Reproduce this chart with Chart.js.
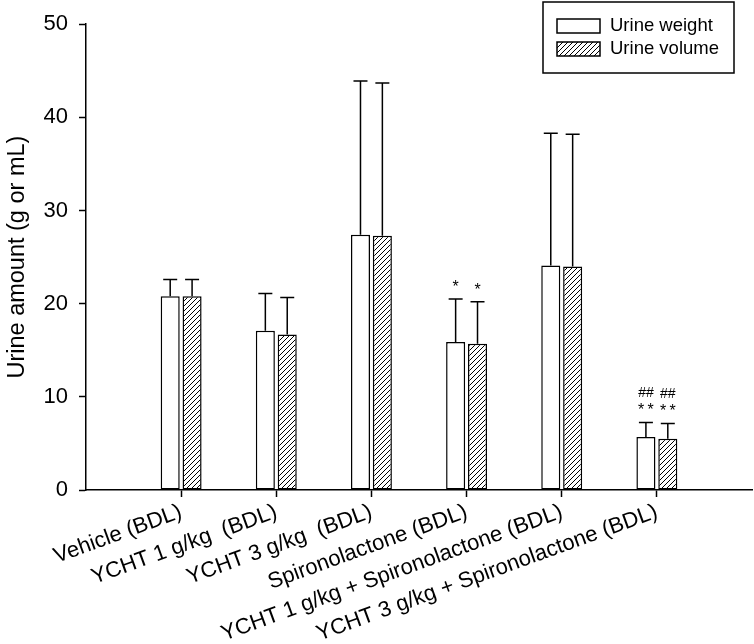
<!DOCTYPE html>
<html>
<head>
<meta charset="utf-8">
<script src="https://cdn.jsdelivr.net/npm/chart.js@4"></script>
<style>
  html, body { margin: 0; padding: 0; background: #fff; }
  #wrap { width: 754px; height: 644px; }
</style>
</head>
<body>
<div id="wrap"><canvas id="myChart"></canvas></div>
<script>
  // empty slots at both ends so the groups sit on ticks 1..6
  const groups = ['', 'Vehicle (BDL)', 'YCHT 1 g/kg  (BDL)', 'YCHT 3 g/kg  (BDL)', 'Spironolactone (BDL)',
    'YCHT 1 g/kg + Spironolactone (BDL)', 'YCHT 3 g/kg + Spironolactone (BDL)', ''];
  const urineWeight = [null, 20.8, 17.1, 27.4, 15.9, 24.1, 5.7, null];
  const urineWeightSD = [null, 1.8, 4.0, 16.5, 4.6, 14.2, 1.55, null];
  const urineVolume = [null, 20.8, 16.7, 27.3, 15.7, 24.0, 5.5, null];
  const urineVolumeSD = [null, 1.8, 3.95, 16.4, 4.5, 14.2, 1.65, null];
  const weightMarks = ['', '', '', '', '*', '', '**\n##', ''];
  const volumeMarks = ['', '', '', '', '*', '', '**\n##', ''];
  const yTicks = [0, 10, 20, 30, 40, 50];

  const FONT = '"Liberation Sans", Arial, sans-serif';

  function hatch() {
    const s = 5;
    const c = document.createElement('canvas');
    c.width = s; c.height = s;
    const g = c.getContext('2d');
    g.fillStyle = '#fff';
    g.fillRect(0, 0, s, s);
    g.strokeStyle = '#000';
    g.lineWidth = 1;
    g.beginPath();
    g.moveTo(0, s); g.lineTo(s, 0);
    g.moveTo(-1, 1); g.lineTo(1, -1);
    g.moveTo(s - 1, s + 1); g.lineTo(s + 1, s - 1);
    g.stroke();
    return g.createPattern(c, 'repeat');
  }
  const hatchFill = hatch();

  const errorBars = {
    id: 'errorBars',
    afterDatasetsDraw(chart) {
      const ctx = chart.ctx;
      const y = chart.scales.y;
      ctx.save();
      ctx.strokeStyle = '#000';
      ctx.lineWidth = 1.5;
      chart.data.datasets.forEach((ds, di) => {
        const meta = chart.getDatasetMeta(di);
        meta.data.forEach((bar, i) => {
          const v = ds.data[i];
          if (v == null) return;
          const top = y.getPixelForValue(v + ds.sd[i]);
          ctx.beginPath();
          ctx.moveTo(bar.x, bar.y);
          ctx.lineTo(bar.x, top);
          ctx.moveTo(bar.x - 7, top);
          ctx.lineTo(bar.x + 7, top);
          ctx.stroke();
          const lines = (ds.marks[i] || '').split('\n').filter(s => s);
          ctx.fillStyle = '#000';
          ctx.textAlign = 'center';
          ctx.textBaseline = 'alphabetic';
          lines.forEach((t, k) => {
            const star = t.includes('*');
            ctx.font = star ? '16px ' + FONT : '14px ' + FONT;
            const txt = star ? t.split('').join('\u2009') : t;
            ctx.fillText(txt, bar.x, top - 7 - 18 * k);
          });
        });
      });
      ctx.restore();
    }
  };

  const boxLegend = {
    id: 'boxLegend',
    afterDraw(chart) {
      const ctx = chart.ctx;
      ctx.save();
      ctx.strokeStyle = '#000';
      ctx.lineWidth = 1.5;
      ctx.fillStyle = '#fff';
      ctx.fillRect(543, 2, 191, 71);
      ctx.strokeRect(543, 2, 191, 71);
      ctx.font = '18.5px ' + FONT;
      ctx.textBaseline = 'middle';
      chart.data.datasets.forEach((ds, i) => {
        const cy = 26 + i * 23;
        ctx.fillStyle = ds.backgroundColor;
        ctx.fillRect(557, cy - 7, 43, 14);
        ctx.strokeRect(557, cy - 7, 43, 14);
        ctx.fillStyle = '#000';
        ctx.textAlign = 'left';
        ctx.fillText(ds.label, 610, cy);
      });
      ctx.restore();
    }
  };

  const ctx = document.getElementById('myChart').getContext('2d');

  const myChart = new Chart(ctx, {
    type: 'bar',
    data: {
      labels: groups,
      datasets: [{
        label: 'Urine weight',
        data: urineWeight,
        sd: urineWeightSD,
        marks: weightMarks,
        backgroundColor: '#fff',
        borderColor: '#000',
        borderWidth: 1.5,
        borderSkipped: false
      }, {
        label: 'Urine volume',
        data: urineVolume,
        sd: urineVolumeSD,
        marks: volumeMarks,
        backgroundColor: hatchFill,
        borderColor: '#000',
        borderWidth: 1.5,
        borderSkipped: false
      }]
    },
    options: {
      responsive: true,
      maintainAspectRatio: false,
      animation: false,
      categoryPercentage: 0.46,
      barPercentage: 0.87,
      layout: { padding: { top: 15, right: 2, left: 0, bottom: 0 } },
      plugins: {
        legend: { display: false },
        tooltip: { enabled: false }
      },
      scales: {
        x: {
          offset: false,
          afterFit: s => { s.height = 154; s.paddingLeft = 0; s.paddingRight = 0; },
          border: { color: '#000', width: 1.5 },
          grid: {
            offset: false,
            drawOnChartArea: false,
            tickLength: 7,
            tickWidth: 1.5,
            tickColor: c => (c.index === 0 || c.index === groups.length - 1) ? 'rgba(0,0,0,0)' : '#000'
          },
          ticks: {
            autoSkip: false,
            minRotation: 20,
            maxRotation: 20,
            padding: 2,
            color: '#000',
            font: { family: FONT, size: 22 }
          }
        },
        y: {
          min: 0,
          max: 50,
          afterFit: s => { s.width = 86; },
          afterBuildTicks: s => { s.ticks = yTicks.map(v => ({ value: v })); },
          border: { color: '#000', width: 1.5 },
          grid: { drawOnChartArea: false, tickLength: 7, tickWidth: 1.5, tickColor: '#000' },
          ticks: {
            padding: 11,
            color: '#000',
            font: { family: FONT, size: 22 }
          },
          title: {
            display: true,
            text: 'Urine amount (g or mL)',
            color: '#000',
            padding: { top: 3, bottom: 0 },
            font: { family: FONT, size: 23.5 }
          }
        }
      }
    },
    plugins: [errorBars, boxLegend]
  });
</script>
</body>
</html>
